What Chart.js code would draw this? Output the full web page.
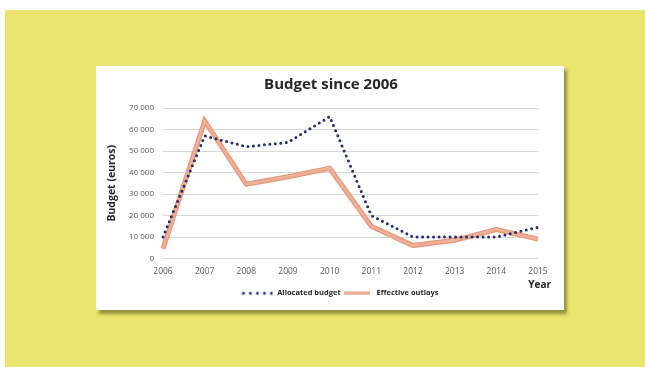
<!DOCTYPE html>
<html>
<head>
<meta charset="utf-8">
<script src="https://cdn.jsdelivr.net/npm/chart.js@4/dist/chart.umd.min.js"></script>
<style>
  html, body { margin: 0; padding: 0; background: #ffffff; width: 645px; height: 367px; overflow: hidden; }
  #bg { position: absolute; left: 5px; top: 10px; width: 640px; height: 357px; background: #e9e56f; }
  #card { position: absolute; left: 96px; top: 66px; width: 468px; height: 244px; background: #ffffff;
          box-shadow: 3px 4px 3px rgba(120, 118, 50, 0.75); }
  #card canvas { position: absolute; left: 0; top: 0; }
</style>
</head>
<body>
<div id="bg"></div>
<div id="card"><canvas id="c" width="468" height="244"></canvas></div>
<script>
const years = ['2006', '2007', '2008', '2009', '2010', '2011', '2012', '2013', '2014', '2015'];
const allocatedBudget = [10000, 57000, 52000, 54000, 66000, 20000, 10000, 10000, 10000, 14500];
const effectiveOutlays = [4500, 64000, 34500, 38000, 42000, 15000, 6000, 8500, 13500, 9000];
const yTicks = [0, 10000, 20000, 30000, 40000, 50000, 60000, 70000];
const chartTitle = 'Budget since 2006';
const xTitle = 'Year';
const yTitle = 'Budget (euros)';

const FONT = "'Open Sans', 'DejaVu Sans', sans-serif";
const NAVY = '#262d68';
const SALMON_EDGE = '#e39a7c';
const SALMON_CORE = '#efb097';

// legend symbols
function dotsSymbol() {
  const c = document.createElement('canvas');
  c.width = 32; c.height = 6;
  const g = c.getContext('2d');
  g.fillStyle = NAVY;
  for (let i = 0; i < 5; i++) {
    g.beginPath(); g.arc(2 + i * 7, 3, 1.5, 0, Math.PI * 2); g.fill();
  }
  return c;
}
function lineSymbol() {
  const c = document.createElement('canvas');
  c.width = 26; c.height = 4;
  const g = c.getContext('2d');
  g.fillStyle = SALMON_EDGE; g.fillRect(0, 0.5, 26, 3);
  g.fillStyle = SALMON_CORE; g.fillRect(0, 1.5, 26, 1);
  return c;
}

const extraText = {
  id: 'extraText',
  afterLayout(chart) {
    // centre the legend row a little right of the card centre, as in the source
    const lg = chart.legend;
    if (lg) { lg.left += 12.5; lg.right += 12.5; }
  },
  afterDraw(chart) {
    const ctx = chart.ctx;
    ctx.save();
    ctx.fillStyle = '#262626';
    ctx.textBaseline = 'middle';
    ctx.font = "bold 15px " + FONT;
    ctx.textAlign = 'center';
    ctx.fillText(chartTitle, chart.width / 2 + 1, 19);
    ctx.font = "bold 10px " + FONT;
    ctx.textAlign = 'right';
    ctx.fillText(xTitle, chart.chartArea.right + 13, chart.chartArea.bottom + 27);
    ctx.restore();
  }
};

new Chart(document.getElementById('c'), {
  type: 'line',
  data: {
    labels: years,
    datasets: [
      {
        label: 'Allocated budget',
        data: allocatedBudget,
        borderColor: NAVY,
        backgroundColor: NAVY,
        borderWidth: 3,
        borderDash: [0, 5.5],
        borderCapStyle: 'round',
        pointRadius: 0,
        pointStyle: dotsSymbol(),
        tension: 0,
        fill: false
      },
      {
        label: 'core',
        data: effectiveOutlays,
        borderColor: SALMON_CORE,
        borderWidth: 2.5,
        borderJoinStyle: 'miter',
        pointRadius: 0,
        tension: 0,
        fill: false
      },
      {
        label: 'Effective outlays',
        data: effectiveOutlays,
        borderColor: SALMON_EDGE,
        backgroundColor: SALMON_EDGE,
        borderWidth: 5,
        borderJoinStyle: 'miter',
        pointRadius: 0,
        pointStyle: lineSymbol(),
        tension: 0,
        fill: false
      }
    ]
  },
  options: {
    responsive: false,
    animation: false,
    devicePixelRatio: 1,
    layout: { padding: { left: 21, right: 26, top: 42, bottom: 3 } },
    plugins: {
      title: { display: false },
      legend: {
        display: true,
        position: 'bottom',
        labels: {
          usePointStyle: true,
          pointStyleWidth: 32,
          padding: 0,
          color: '#262626',
          font: { family: FONT, size: 7.5, weight: 'bold' },
          filter: item => item.text !== 'core'
        }
      },
      tooltip: { enabled: false }
    },
    scales: {
      x: {
        offset: false,
        grid: { display: false, drawTicks: false },
        border: { display: false },
        ticks: {
          color: '#595959',
          font: { family: FONT, size: 8.5 },
          padding: 8,
          maxRotation: 0,
          autoSkip: false
        },
        afterFit(s) { s.height = 31; }
      },
      y: {
        min: 0,
        max: 70000,
        afterBuildTicks(s) { s.ticks = yTicks.map(v => ({ value: v })); },
        grid: { color: '#d9d9d9', lineWidth: 1, drawTicks: false },
        border: { display: false },
        ticks: {
          color: '#595959',
          font: { family: FONT, size: 8 },
          padding: 9,
          callback: v => String(v).replace(/\B(?=(\d{3})+(?!\d))/g, ' ')
        },
        title: {
          display: true,
          text: yTitle,
          color: '#262626',
          font: { family: FONT, size: 10.5, weight: 'bold' },
          padding: { top: -11, bottom: 0 }
        },
        afterFit(s) { s.width = 46; }
      }
    }
  },
  plugins: [extraText]
});
</script>
</body>
</html>
